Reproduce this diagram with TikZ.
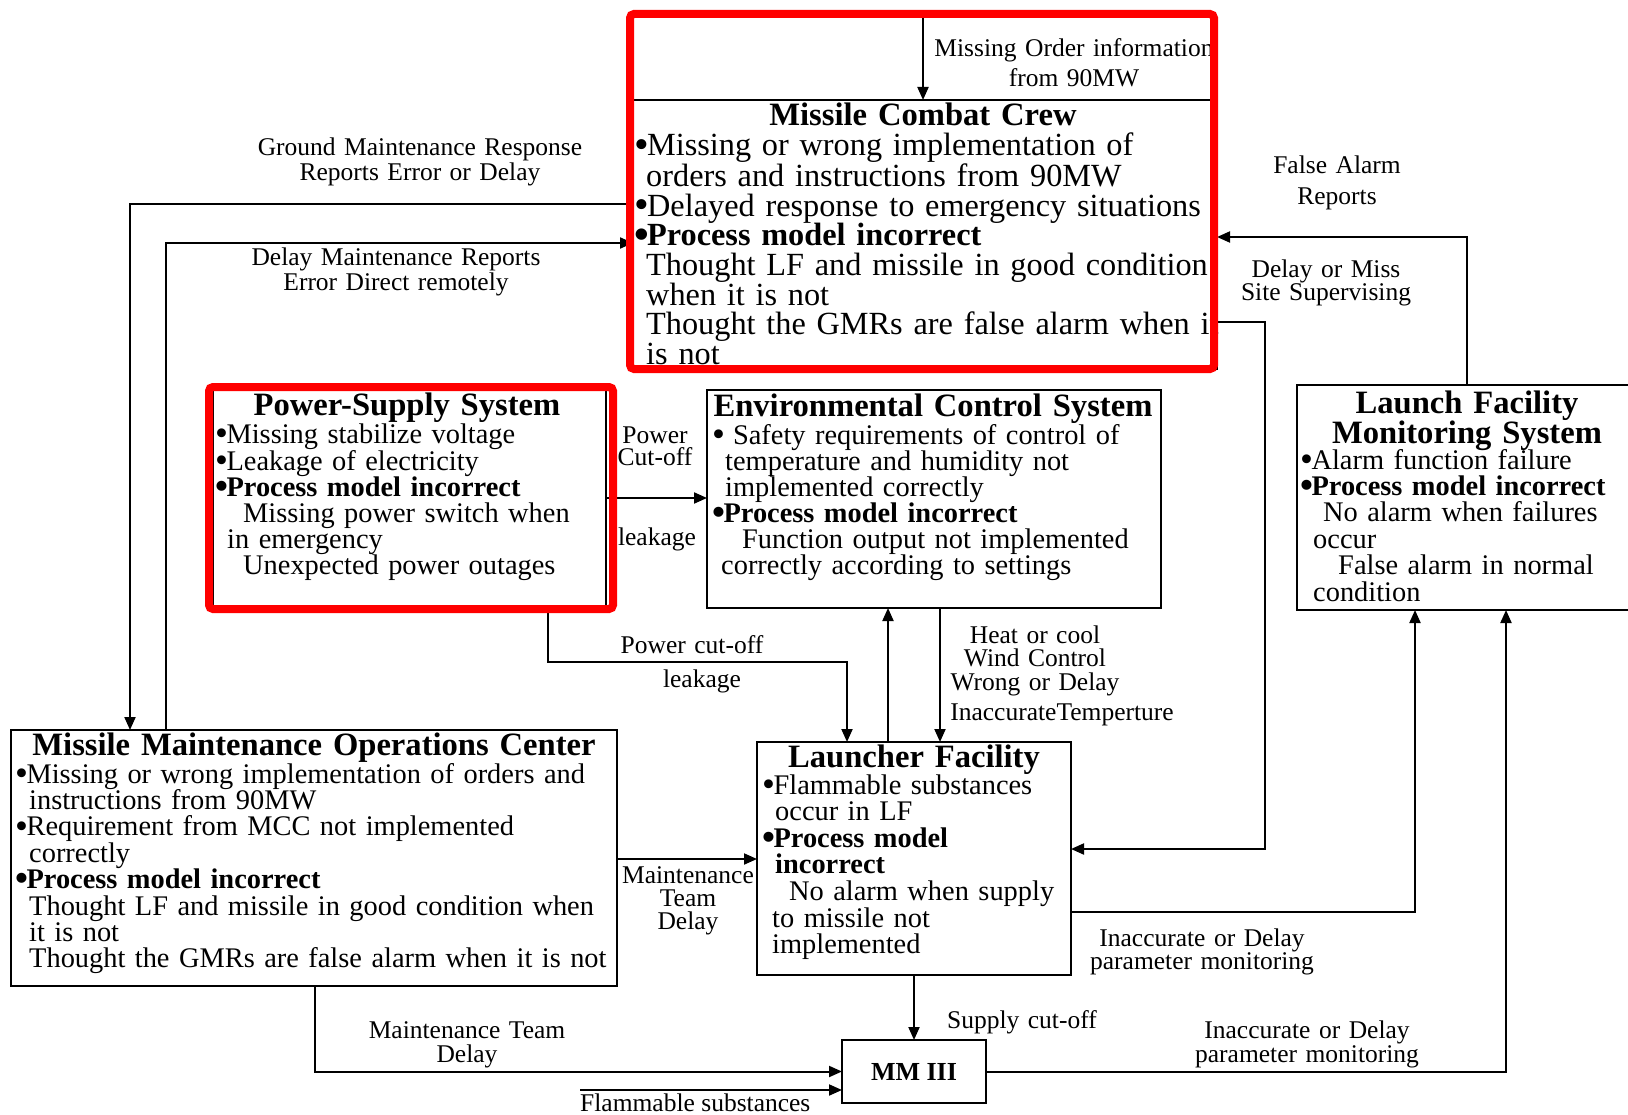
\documentclass[tikz,border=0pt]{standalone}
\usepackage{fontspec}
\setmainfont{Liberation Serif}
\usetikzlibrary{arrows.meta,calc}
% list bullet, a little larger than the font's own
\newcommand\bul{\makebox[0.4em][l]{\raisebox{-0.08em}{\scalebox{1.3}{•}}}}
\begin{document}
\begin{tikzpicture}[x=1pt,y=-1pt,
  box/.style={draw, line width=2.2pt, inner sep=0pt, outer sep=0pt, anchor=north west},
  hilite/.style={draw=red, line width=8pt, rounded corners=4pt},
  conn/.style={line width=2pt, -{Triangle[length=13pt,width=11pt]}},
  body/.style={anchor=base west, inner sep=0pt, text width=760pt, align=left, font=\fontsize{28.4}{26.4}\selectfont},
  bigbody/.style={body, font=\fontsize{32.3}{29.6}\selectfont},
  heading/.style={anchor=base, inner sep=0pt, text width=600pt, align=center, font=\fontsize{32.6}{29}\selectfont\bfseries},
  lab/.style={anchor=base, inner sep=0pt, text width=400pt, align=center, font=\fontsize{25.5}{23}\selectfont},
]
\fill[white] (0,0) rectangle (1628,1115);
\useasboundingbox (0,0) rectangle (1628,1115);

% ---- boxes ----
\node[box, minimum width=584pt, minimum height=269pt] (mcc) at (633,100) {};
\node[box, minimum width=393pt, minimum height=218pt] (pss) at (213,389) {};
\node[box, minimum width=454pt, minimum height=218pt] (ecs) at (707,390) {};
\node[box, minimum width=343pt, minimum height=225pt] (lfms) at (1297,385) {};
\node[box, minimum width=314pt, minimum height=233pt] (lf) at (757,742) {};
\node[box, minimum width=606pt, minimum height=256pt] (mmoc) at (11,730) {};
\node[box, minimum width=144pt, minimum height=63pt, font=\fontsize{26}{28}\selectfont\bfseries] (mm) at (842,1040) {MM III};

% ---- box contents ----
\node[heading] (mcc-t) at (923,126) {Missile Combat Crew};
\node[bigbody] (mcc-b) at (634,156) {\bul Missing or wrong implementation of\\\hspace*{12pt}orders and instructions from 90MW\\\bul Delayed response to emergency situations\\\textbf{\bul Process model incorrect}\\\hspace*{12pt}Thought LF and missile in good condition\\\hspace*{12pt}when it is not\\\hspace*{12pt}Thought the GMRs are false alarm when it\\\hspace*{12pt}is not};

\node[heading] (pss-t) at (407,415) {Power-Supply System};
\node[body, font=\fontsize{28.4}{26}\selectfont] (pss-b) at (215,443) {\bul Missing stabilize voltage\\\bul Leakage of electricity\\\textbf{\bul Process model incorrect}\\\hspace*{28pt}Missing power switch when\\\hspace*{12pt}in emergency\\\hspace*{28pt}Unexpected power outages};

\node[heading] (ecs-t) at (933,416) {Environmental Control System};
\node[body, font=\fontsize{28.4}{26}\selectfont] (ecs-b) at (712,444) {\bul\ Safety requirements of control of\\\hspace*{13pt}temperature and humidity not\\\hspace*{13pt}implemented correctly\\\textbf{\bul Process model incorrect}\\\hspace*{30pt}Function output not implemented\\\hspace*{9pt}correctly according to settings};

\node[heading] (lfms-t) at (1467,413) {Launch Facility\\Monitoring System};
\node[body] (lfms-b) at (1300,469) {\bul Alarm function failure\\\textbf{\bul Process model incorrect}\\\hspace*{23pt}No alarm when failures\\\hspace*{13pt}occur\\\hspace*{38pt}False alarm in normal\\\hspace*{13pt}condition};

\node[heading] (lf-t) at (914,767) {Launcher Facility};
\node[body, font=\fontsize{28.4}{26.6}\selectfont] (lf-b) at (762,794) {\bul Flammable substances\\\hspace*{13pt}occur in LF\\\textbf{\bul Process model}\\\hspace*{13pt}\textbf{incorrect}\\\hspace*{27pt}No alarm when supply\\\hspace*{10pt}to missile not\\\hspace*{10pt}implemented};

\node[heading] (mmoc-t) at (314,755) {Missile Maintenance Operations Center};
\node[body] (mmoc-b) at (15,783) {\bul Missing or wrong implementation of orders and\\\hspace*{14pt}instructions from 90MW\\\bul Requirement from MCC not implemented\\\hspace*{14pt}correctly\\\textbf{\bul Process model incorrect}\\\hspace*{14pt}Thought LF and missile in good condition when\\\hspace*{14pt}it is not\\\hspace*{14pt}Thought the GMRs are false alarm when it is not};

% ---- connector labels ----
\node[lab, font=\fontsize{25.5}{30}\selectfont] (l-order) at (1074,57) {Missing Order information\\from 90MW};
\node[lab] (l-gmr) at (420,156) {Ground Maintenance Response\\Reports Error or Delay};
\node[lab] (l-dmr) at (396,266) {Delay Maintenance Reports\\Error Direct remotely};
\node[lab, font=\fontsize{25.5}{31}\selectfont] (l-far) at (1337,174) {False Alarm\\Reports};
\node[lab] (l-dms) at (1326,278) {Delay or Miss\\Site Supervising};
\node[lab, font=\fontsize{25.5}{22}\selectfont] (l-pco) at (655,443) {Power\\Cut-off};
\node[lab] (l-leak1) at (657,545) {leakage};
\node[lab] (l-pcl) at (692,653) {Power cut-off};
\node[lab] (l-leak2) at (702,687) {leakage};
\node[lab, font=\fontsize{25.5}{23.5}\selectfont] (l-heat) at (1035,643) {Heat or cool\\Wind Control\\Wrong or Delay};
\node[lab] (l-temp) at (1062,720) {InaccurateTemperture};
\node[lab] (l-mtd) at (688,883) {Maintenance\\Team\\Delay};
\node[lab] (l-ipm1) at (1202,946) {Inaccurate or Delay\\parameter monitoring};
\node[lab, font=\fontsize{25.5}{24}\selectfont] (l-mtd2) at (467,1038) {Maintenance Team\\Delay};
\node[lab] (l-sco) at (1022,1028) {Supply cut-off};
\node[lab, font=\fontsize{25.5}{24}\selectfont] (l-ipm2) at (1307,1038) {Inaccurate or Delay\\parameter monitoring};
\node[lab, anchor=base west, text width=] (l-flam) at (580,1111) {Flammable substances};

% ---- connectors ----
\coordinate (ordsrc) at (923,15);
\draw[conn] (ordsrc) -- (ordsrc |- mcc.north);
\draw[conn] ($(mcc.north west)+(0,104)$) -| ($(mmoc.north west)+(119,0)$);
\draw[conn] ($(mmoc.north west)+(155,0)$) |- ($(mcc.north west)+(0,143)$);
\draw[conn] ($(lfms.north west)+(170,0)$) |- ($(mcc.north east)+(0,137)$);
\draw[conn] ($(mcc.north east)+(0,222)$) -- ++(48,0) |- ($(lf.north east)+(0,107)$);
\draw[conn] ($(pss.north east)+(0,109)$) -- ($(ecs.north west)+(0,108)$);
\draw[conn] ($(pss.south west)+(335,0)$) |- ($(lf.north west)+(90,-80)$) -- ($(lf.north west)+(90,0)$);
\draw[conn] ($(lf.north west)+(131,0)$) -- ($(ecs.south west)+(181,0)$);
\draw[conn] ($(ecs.south west)+(233,0)$) -- ($(lf.north west)+(183,0)$);
\draw[conn] ($(lf.north east)+(0,170)$) -| ($(lfms.south west)+(118,0)$);
\draw[conn] ($(mmoc.north east)+(0,129)$) -- ($(lf.north west)+(0,117)$);
\draw[conn] (lf.south) -- (mm.north);
\draw[conn] ($(mmoc.south west)+(304,0)$) |- (mm.west);
\coordinate (flamsrc) at (580,1090);
\draw[conn] (flamsrc) -- (flamsrc -| mm.west);
\draw[conn] (mm.east) -| ($(lfms.south west)+(209,0)$);

% ---- highlighted components ----
\draw[hilite] (630,14) rectangle (1214,369);
\draw[hilite] (209,387) rectangle (613,609);
\end{tikzpicture}
\end{document}
